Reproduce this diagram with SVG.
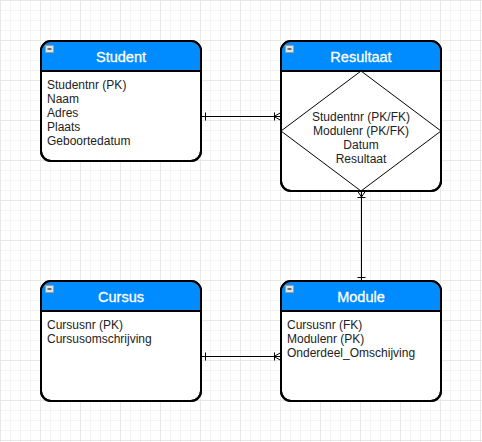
<svg xmlns="http://www.w3.org/2000/svg" width="482" height="442" viewBox="0 0 482 442">
<defs>
<pattern id="grid" width="40" height="40" patternUnits="userSpaceOnUse">
<path d="M10.5 0V40M20.5 0V40M30.5 0V40M0 10.5H40M0 20.5H40M0 30.5H40" stroke="#f4f4f4" stroke-width="1" fill="none"/>
<path d="M0.5 0V40M0 0.5H40" stroke="#e8e8e8" stroke-width="1" fill="none"/>
</pattern>
<g id="minus">
<rect x="0.5" y="0.5" width="8" height="7" fill="#e2e2e2" stroke="#9a9a9a" stroke-width="0.8"/>
<path d="M2.5 4H6.5" stroke="#222" stroke-width="1.2"/>
</g>
</defs>
<style>
.box{fill:#fff;stroke:#000;stroke-width:2}
.hdr{fill:#008cff}
.sep{stroke:#000;stroke-width:2}
.title{font-family:"Liberation Sans",Arial,sans-serif;font-size:14.5px;fill:#fff;stroke:#fff;stroke-width:0.3;text-anchor:middle}
.attr{font-family:"Liberation Sans",Arial,sans-serif;font-size:12px;fill:#222}
.mid{text-anchor:middle}
.ln{stroke:#000;stroke-width:1;fill:none}
</style>
<rect width="482" height="442" fill="#fff"/>
<rect width="482" height="442" fill="url(#grid)"/>

<g id="connectors">
<path class="ln" d="M201 116.5H281"/>
<path class="ln" d="M205.5 112.5V120.5"/>
<path class="ln" d="M274.5 112.5V120.5M274 116.5L281 112.5M274 116.5L281 120.5"/>
<path class="ln" d="M361.5 191V281"/>
<path class="ln" d="M357.5 277.5H365.5"/>
<path class="ln" d="M357.5 197.5H365.5M361.5 197L357.5 191M361.5 197L365.5 191"/>
<path class="ln" d="M201 356.5H281"/>
<path class="ln" d="M205.5 352.5V360.5"/>
<path class="ln" d="M274.5 352.5V360.5M274 356.5L281 352.5M274 356.5L281 360.5"/>
</g>

<g id="student">
<rect class="box" x="41" y="41" width="160" height="120" rx="10"/>
<path class="hdr" d="M51 42H191A9 9 0 0 1 200 51V70H42V51A9 9 0 0 1 51 42Z"/>
<path class="sep" d="M41 71H201"/>
<rect x="41" y="41" width="160" height="120" rx="10" fill="none" stroke="#000" stroke-width="2"/>
<use href="#minus" x="45" y="45"/>
<text class="title" x="121" y="62">Student</text>
<text class="attr" x="47" y="89">Studentnr (PK)</text>
<text class="attr" x="47" y="103">Naam</text>
<text class="attr" x="47" y="117">Adres</text>
<text class="attr" x="47" y="131">Plaats</text>
<text class="attr" x="47" y="145">Geboortedatum</text>
</g>

<g id="resultaat">
<rect class="box" x="281" y="41" width="160" height="150" rx="10"/>
<path class="hdr" d="M291 42H431A9 9 0 0 1 440 51V70H282V51A9 9 0 0 1 291 42Z"/>
<path class="sep" d="M281 71H441"/>
<path d="M361 71L441 131L361 191L281 131Z" fill="#fff" stroke="#000" stroke-width="1"/>
<rect x="281" y="41" width="160" height="150" rx="10" fill="none" stroke="#000" stroke-width="2"/>
<use href="#minus" x="285" y="45"/>
<text class="title" x="361" y="62">Resultaat</text>
<text class="attr mid" x="361" y="121">Studentnr (PK/FK)</text>
<text class="attr mid" x="361" y="135">Modulenr (PK/FK)</text>
<text class="attr mid" x="361" y="149">Datum</text>
<text class="attr mid" x="361" y="163">Resultaat</text>
</g>

<g id="cursus">
<rect class="box" x="41" y="281" width="160" height="120" rx="10"/>
<path class="hdr" d="M51 282H191A9 9 0 0 1 200 291V310H42V291A9 9 0 0 1 51 282Z"/>
<path class="sep" d="M41 311H201"/>
<rect x="41" y="281" width="160" height="120" rx="10" fill="none" stroke="#000" stroke-width="2"/>
<use href="#minus" x="45" y="285"/>
<text class="title" x="121" y="302">Cursus</text>
<text class="attr" x="47" y="329">Cursusnr (PK)</text>
<text class="attr" x="47" y="343">Cursusomschrijving</text>
</g>

<g id="module">
<rect class="box" x="281" y="281" width="160" height="120" rx="10"/>
<path class="hdr" d="M291 282H431A9 9 0 0 1 440 291V310H282V291A9 9 0 0 1 291 282Z"/>
<path class="sep" d="M281 311H441"/>
<rect x="281" y="281" width="160" height="120" rx="10" fill="none" stroke="#000" stroke-width="2"/>
<use href="#minus" x="285" y="285"/>
<text class="title" x="361" y="302">Module</text>
<text class="attr" x="287" y="329">Cursusnr (FK)</text>
<text class="attr" x="287" y="343">Modulenr (PK)</text>
<text class="attr" x="287" y="357">Onderdeel_Omschijving</text>
</g>
</svg>
